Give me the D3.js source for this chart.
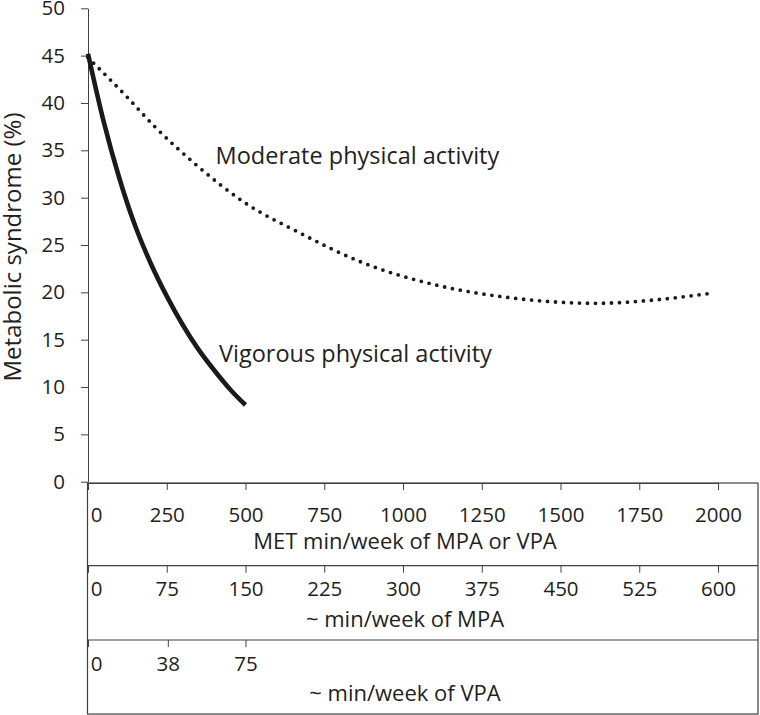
<!DOCTYPE html>
<html>
<head>
<meta charset="utf-8">
<script src="https://cdn.jsdelivr.net/npm/d3@7"></script>
<style>
  body { margin: 0; background: #fff; }
  text { font-family: 'Open Sans', sans-serif; fill: #231f20; }
</style>
</head>
<body>
<div id="chart"></div>
<script>
// values
const metVigorous = [0, 50, 100, 150, 200, 250, 300, 350, 400, 450, 500]
const pctVigorous = [45.2, 38.0, 32.0, 27.0, 23.0, 19.6, 16.6, 14.0, 11.8, 9.8, 8.1]

const metModerate = [0, 122, 212, 344, 492, 677, 867, 1095, 1348, 1612, 1800, 1977]
const pctModerate = [44.8, 40.7, 37.5, 33.45, 29.6, 26.2, 23.2, 20.85, 19.4, 18.84, 19.2, 19.9]

const yTicks = [0, 5, 10, 15, 20, 25, 30, 35, 40, 45, 50]
const metTicks = [0, 250, 500, 750, 1000, 1250, 1500, 1750, 2000]
const mpaTicks = [0, 75, 150, 225, 300, 375, 450, 525, 600]
const vpaTicks = [0, 38, 75]

const rowTitles = ['MET min/week of MPA or VPA', '~ min/week of MPA', '~ min/week of VPA']

const width = 760
const height = 715

const svg = d3.select('#chart').append('svg')
  .attr('width', width)
  .attr('height', height)

const x = d3.scaleLinear().domain([0, 2000]).range([88, 718])
const xMpa = d3.scaleLinear().domain([0, 600]).range([88, 718])
const xVpa = d3.scaleLinear().domain([0, 300]).range([88, 718])
const y = d3.scaleLinear().domain([0, 50]).range([481.7, 8.3])

const lineCol = '#404040'
const tickFont = '20.5px'

// y axis
const yAxis = svg.append('g')
  .attr('transform', 'translate(88, 0)')
  .call(d3.axisLeft(y).tickValues(yTicks).tickSize(7).tickSizeOuter(0).tickPadding(16))
yAxis.select('.domain').attr('stroke', lineCol)
yAxis.selectAll('.tick line').attr('stroke', lineCol)
yAxis.selectAll('text').attr('font-size', tickFont).attr('font-family', null)

svg.append('text')
  .attr('transform', `translate(21, ${(y(0) + y(50)) / 2 + 2}) rotate(-90)`)
  .attr('text-anchor', 'middle')
  .attr('font-size', '24px')
  .text('Metabolic syndrome (%)')

// table under the chart
const rows = [483, 565.7, 640, 714]
const tLeft = 87.5
const tRight = 758

svg.append('rect')
  .attr('x', tLeft)
  .attr('y', rows[0])
  .attr('width', tRight - tLeft)
  .attr('height', rows[3] - rows[0])
  .attr('fill', 'none')
  .attr('stroke', lineCol)
  .attr('stroke-width', 1.2)

rows.slice(1, 3).forEach(r => {
  svg.append('line')
    .attr('x1', tLeft).attr('x2', tRight)
    .attr('y1', r).attr('y2', r)
    .attr('stroke', lineCol)
    .attr('stroke-width', 1.2)
})

const axes = [
  { scale: x, ticks: metTicks, pad: 17 },
  { scale: xMpa, ticks: mpaTicks, pad: 9 },
  { scale: xVpa, ticks: vpaTicks, pad: 9.5 },
]

axes.forEach((a, i) => {
  const g = svg.append('g')
    .attr('transform', `translate(0, ${rows[i]})`)
    .call(d3.axisBottom(a.scale).tickValues(a.ticks).tickFormat(d3.format('d'))
      .tickSize(7).tickSizeOuter(0).tickPadding(a.pad))
  g.select('.domain').attr('stroke', i === 0 ? lineCol : 'none')
  g.selectAll('.tick line').attr('stroke', lineCol)
  g.selectAll('text').attr('font-size', tickFont).attr('font-family', null)
    .attr('dx', d => d === 0 ? 8 : 0)
})

const titleBase = [549, 627, 701]
rowTitles.forEach((t, i) => {
  svg.append('text')
    .attr('x', (x(0) + x(2000)) / 2 + 2)
    .attr('y', titleBase[i])
    .attr('text-anchor', 'middle')
    .attr('font-size', '22px')
    .text(t)
})

// curves
const line = d3.line()
  .x(d => x(d[0]))
  .y(d => y(d[1]))
  .curve(d3.curveMonotoneX)

svg.append('path')
  .datum(d3.zip(metModerate, pctModerate))
  .attr('d', line)
  .attr('fill', 'none')
  .attr('stroke', '#1a1a1a')
  .attr('stroke-width', 3.8)
  .attr('stroke-linecap', 'round')
  .attr('stroke-dasharray', '0 8')

svg.append('path')
  .datum(d3.zip(metVigorous, pctVigorous))
  .attr('d', line)
  .attr('fill', 'none')
  .attr('stroke', '#1a1a1a')
  .attr('stroke-width', 4.6)

// labels
svg.append('text')
  .attr('x', x(405))
  .attr('y', y(33.6))
  .attr('font-size', '23.5px')
  .text('Moderate physical activity')

svg.append('text')
  .attr('x', x(416))
  .attr('y', y(12.6))
  .attr('font-size', '23.5px')
  .text('Vigorous physical activity')
</script>
</body>
</html>
